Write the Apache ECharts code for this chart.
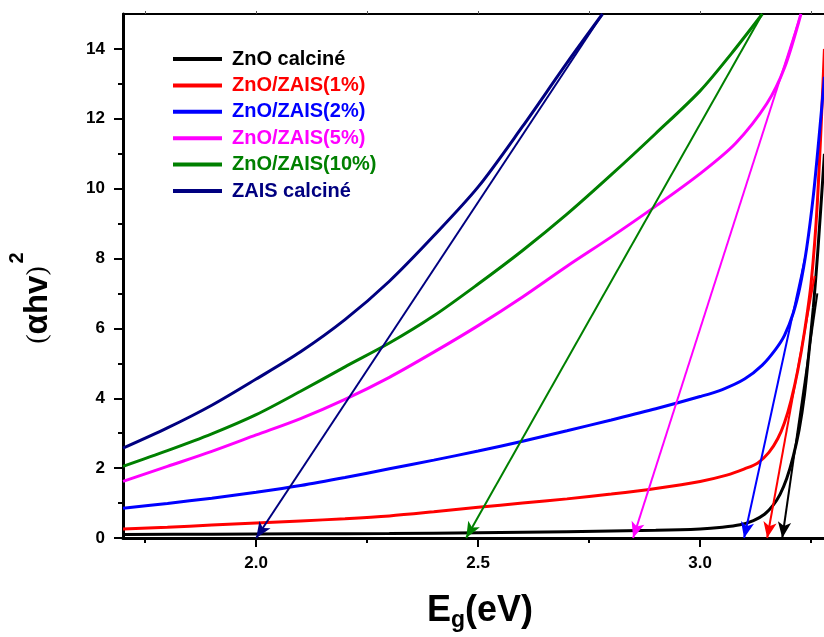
<!DOCTYPE html>
<html>
<head>
<meta charset="utf-8">
<script src="https://cdn.jsdelivr.net/npm/echarts@6/dist/echarts.min.js"></script>
<style>
html,body{margin:0;padding:0;background:#fff;}
#chart{width:824px;height:637px;}
</style>
</head>
<body>
<div id="chart"></div>
<script>
// ---- data (E in eV, (αhν)^2) ----
const seriesNames = ['ZnO calciné', 'ZnO/ZAIS(1%)', 'ZnO/ZAIS(2%)', 'ZnO/ZAIS(5%)', 'ZnO/ZAIS(10%)', 'ZAIS calciné'];
const seriesColors = ['#000000', '#ff0000', '#0000ff', '#ff00ff', '#008000', '#000080'];

const znoCalcine = [[1.70,0.10],[1.90,0.11],[2.10,0.12],[2.30,0.13],[2.50,0.15],[2.70,0.18],[2.90,0.22],[3.00,0.26],[3.05,0.31],[3.09,0.38],[3.12,0.50],[3.145,0.68],[3.165,0.95],[3.18,1.25],[3.195,1.70],[3.21,2.35],[3.223,3.1],[3.235,4.1],[3.245,5.3],[3.255,6.6],[3.265,8.2],[3.28,11.0]];
const zais1 = [[1.70,0.26],[1.80,0.31],[1.90,0.37],[2.00,0.43],[2.10,0.49],[2.20,0.55],[2.30,0.63],[2.40,0.75],[2.50,0.88],[2.60,1.00],[2.70,1.12],[2.80,1.26],[2.90,1.42],[3.00,1.62],[3.06,1.80],[3.10,1.98],[3.13,2.15],[3.155,2.45],[3.175,2.85],[3.19,3.3],[3.205,3.95],[3.22,4.8],[3.235,5.9],[3.25,7.3],[3.264,9.6],[3.28,14.0]];
const zais2 = [[1.70,0.85],[1.80,0.99],[1.90,1.14],[2.00,1.31],[2.10,1.50],[2.20,1.73],[2.30,1.98],[2.40,2.23],[2.50,2.49],[2.60,2.77],[2.70,3.07],[2.80,3.38],[2.90,3.70],[3.00,4.05],[3.05,4.25],[3.10,4.55],[3.14,4.95],[3.17,5.40],[3.19,5.80],[3.21,6.45],[3.225,7.2],[3.24,8.3],[3.255,9.8],[3.268,11.5],[3.28,13.2]];
const zais5 = [[1.70,1.62],[1.80,2.05],[1.90,2.48],[2.00,2.95],[2.10,3.42],[2.20,3.97],[2.30,4.60],[2.40,5.32],[2.50,6.08],[2.60,6.90],[2.70,7.78],[2.80,8.62],[2.90,9.50],[3.00,10.43],[3.08,11.30],[3.15,12.43],[3.19,13.46],[3.227,15.0]];
const zais10 = [[1.70,2.05],[1.80,2.50],[1.90,2.98],[2.00,3.53],[2.10,4.20],[2.20,4.90],[2.30,5.58],[2.40,6.36],[2.50,7.27],[2.60,8.23],[2.70,9.27],[2.80,10.40],[2.90,11.58],[3.00,12.80],[3.07,13.86],[3.14,15.0]];
const zaisCalcine = [[1.70,2.57],[1.80,3.15],[1.90,3.80],[2.00,4.55],[2.10,5.33],[2.20,6.25],[2.30,7.35],[2.40,8.65],[2.50,10.05],[2.60,11.78],[2.70,13.60],[2.78,15.0]];

// tangent (Tauc extrapolation) arrows: [start, end]
const tangentLines = [
  [[3.264, 7.0], [3.185, 0]],
  [[3.258, 7.5], [3.151, 0]],
  [[3.236, 8.0], [3.099, 0]],
  [[3.227, 15.0], [2.849, 0]],
  [[3.14, 15.0], [2.473, 0]],
  [[2.78, 15.0], [2.0, 0]]
];

const xLabelValues = [2.0, 2.5, 3.0];
const xMinorValues = [1.75, 2.25, 2.75, 3.25];
const xTopTicks = [1.75, 2.0, 2.25, 2.5, 2.75, 3.0, 3.25];
const yLabelValues = [0, 2, 4, 6, 8, 10, 12, 14];
const yMinorValues = [1, 3, 5, 7, 9, 11, 13];

const allData = [znoCalcine, zais1, zais2, zais5, zais10, zaisCalcine];

const chart = echarts.init(document.getElementById('chart'), null, {renderer: 'canvas'});
const FONT = 'Liberation Sans, Arial, sans-serif';

const series = allData.map((d, i) => ({
  name: seriesNames[i],
  type: 'line',
  data: d,
  xAxisIndex: 0,
  yAxisIndex: 0,
  smooth: 0.3,
  showSymbol: false,
  symbol: 'none',
  clip: true,
  lineStyle: {color: seriesColors[i], width: 3},
  itemStyle: {color: seriesColors[i]},
  emphasis: {disabled: true},
  z: 3,
  markLine: {
    silent: true,
    animation: false,
    symbol: ['none', 'arrow'],
    symbolSize: [10, 16],
    label: {show: false},
    emphasis: {disabled: true},
    lineStyle: {color: seriesColors[i], width: 2, type: 'solid'},
    data: [[{coord: tangentLines[i][0]}, {coord: tangentLines[i][1]}]]
  }
}));

const option = {
  animation: false,
  backgroundColor: '#ffffff',
  grid: {left: 123, top: 14, right: 0, height: 524, containLabel: false},
  legend: {
    orient: 'vertical',
    left: 168,
    top: 44,
    icon: 'rect',
    itemWidth: 49,
    itemHeight: 4,
    itemGap: 6.4,
    data: seriesNames.map((n, i) => ({name: n, textStyle: {color: seriesColors[i]}})),
    textStyle: {fontFamily: FONT, fontWeight: 'bold', fontSize: 20, lineHeight: 20, padding: [0, 0, 0, 5]},
    selectedMode: false
  },
  xAxis: [
    {
      type: 'value', position: 'bottom', min: 1.7, max: 3.279,
      axisLine: {show: true, onZero: false, lineStyle: {color: '#000', width: 3}},
      axisTick: {show: true, customValues: xLabelValues, length: 9, lineStyle: {color: '#000', width: 2}},
      axisLabel: {show: true, customValues: xLabelValues, margin: 17, formatter: v => Number(v).toFixed(1),
                  fontFamily: FONT, fontWeight: 'bold', fontSize: 17, color: '#000'},
      splitLine: {show: false}
    },
    {
      type: 'value', position: 'bottom', min: 1.7, max: 3.279,
      axisLine: {show: false},
      axisTick: {show: true, customValues: xMinorValues, length: 5, lineStyle: {color: '#000', width: 2}},
      axisLabel: {show: false},
      splitLine: {show: false}
    },
    {
      type: 'value', position: 'top', min: 1.7, max: 3.279,
      axisLine: {show: true, onZero: false, lineStyle: {color: '#000', width: 2}},
      axisTick: {show: true, customValues: xTopTicks, length: 3, lineStyle: {color: '#555', width: 1}},
      axisLabel: {show: false},
      splitLine: {show: false}
    }
  ],
  yAxis: [
    {
      type: 'value', position: 'left', min: 0, max: 15,
      axisLine: {show: true, onZero: false, lineStyle: {color: '#000', width: 3}},
      axisTick: {show: true, customValues: yLabelValues, length: 9, lineStyle: {color: '#000', width: 2}},
      axisLabel: {show: true, customValues: yLabelValues, margin: 18,
                  fontFamily: FONT, fontWeight: 'bold', fontSize: 17, color: '#000'},
      splitLine: {show: false}
    },
    {
      type: 'value', position: 'left', min: 0, max: 15,
      axisLine: {show: false},
      axisTick: {show: true, customValues: yMinorValues, length: 5, lineStyle: {color: '#000', width: 2}},
      axisLabel: {show: false},
      splitLine: {show: false}
    }
  ],
  graphic: [
    {
      type: 'group',
      x: 38, y: 305,
      rotation: Math.PI / 2,
      children: [
        {
          type: 'text', x: 0, y: 0,
          style: {
            text: '{p|(}{m|αhv}{p|)}',
            align: 'center', verticalAlign: 'middle',
            rich: {
              p: {fontFamily: 'Liberation Serif, serif', fontSize: 28, color: '#000'},
              m: {fontFamily: FONT, fontWeight: 'bold', fontSize: 33, color: '#000'}
            }
          }
        },
        {
          type: 'text', x: 47, y: -21,
          style: {text: '2', align: 'center', verticalAlign: 'middle',
                  fontFamily: FONT, fontWeight: 'bold', fontSize: 20, fill: '#000'}
        }
      ]
    },
    {
      type: 'group',
      children: [
        {type: 'text', x: 451, y: 611,
         style: {text: 'E', align: 'right', verticalAlign: 'middle', fontFamily: FONT, fontWeight: 'bold', fontSize: 36, fill: '#000'}},
        {type: 'text', x: 451, y: 621,
         style: {text: 'g', align: 'left', verticalAlign: 'middle', fontFamily: FONT, fontWeight: 'bold', fontSize: 23, fill: '#000'}},
        {type: 'text', x: 465, y: 611,
         style: {text: '(eV)', align: 'left', verticalAlign: 'middle', fontFamily: FONT, fontWeight: 'bold', fontSize: 36, fill: '#000'}}
      ]
    }
  ],
  series: series
};
chart.setOption(option);
</script>
</body>
</html>
